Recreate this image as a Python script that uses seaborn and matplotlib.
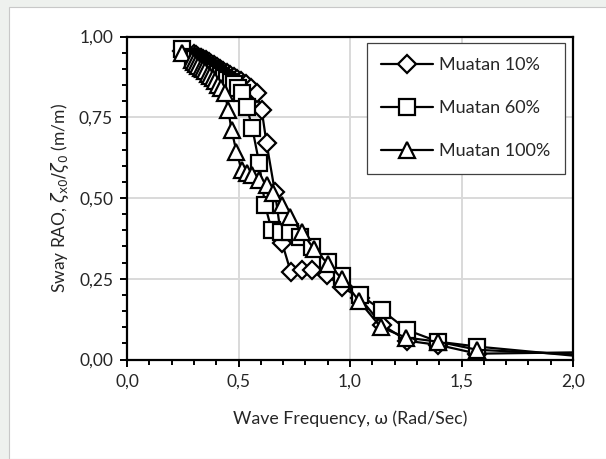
import matplotlib
matplotlib.use("Agg")
import matplotlib.pyplot as plt
import seaborn as sns
import pandas as pd
from matplotlib.ticker import MultipleLocator, FixedLocator
from matplotlib.patches import Rectangle

# ---- data ----
w10 = [0.246, 0.300, 0.310, 0.320, 0.331, 0.342, 0.354, 0.366, 0.378, 0.391, 0.404, 0.418,
       0.432, 0.447, 0.462, 0.478, 0.495, 0.513, 0.532, 0.556, 0.581, 0.604, 0.626, 0.663,
       0.695, 0.734, 0.783, 0.830, 0.895, 0.963, 1.045, 1.142, 1.257, 1.396, 1.571, 2.0]
v10 = [0.955, 0.946, 0.942, 0.938, 0.934, 0.930, 0.926, 0.921, 0.916, 0.911, 0.906, 0.900,
       0.894, 0.888, 0.882, 0.876, 0.869, 0.862, 0.853, 0.842, 0.824, 0.772, 0.669, 0.520,
       0.362, 0.272, 0.278, 0.278, 0.262, 0.225, 0.190, 0.108, 0.058, 0.045, 0.018, 0.022]

w60 = [0.246, 0.297, 0.307, 0.317, 0.327, 0.338, 0.349, 0.360, 0.372, 0.384, 0.396, 0.409,
       0.422, 0.436, 0.450, 0.465, 0.480, 0.497, 0.514, 0.537, 0.562, 0.593, 0.619, 0.649,
       0.690, 0.731, 0.776, 0.831, 0.900, 0.964, 1.045, 1.142, 1.257, 1.396, 1.571, 2.0]
v60 = [0.960, 0.935, 0.930, 0.925, 0.920, 0.915, 0.910, 0.905, 0.900, 0.895, 0.890, 0.884,
       0.878, 0.872, 0.866, 0.860, 0.852, 0.842, 0.824, 0.783, 0.716, 0.607, 0.478, 0.400,
       0.396, 0.396, 0.380, 0.349, 0.302, 0.257, 0.200, 0.153, 0.091, 0.055, 0.040, 0.012]

w100 = [0.246, 0.293, 0.302, 0.311, 0.320, 0.330, 0.340, 0.350, 0.361, 0.372, 0.384, 0.396,
        0.408, 0.421, 0.439, 0.454, 0.469, 0.491, 0.514, 0.537, 0.559, 0.590, 0.626, 0.656,
        0.693, 0.731, 0.783, 0.838, 0.900, 0.964, 1.042, 1.138, 1.250, 1.396, 1.571, 2.0]
v100 = [0.948, 0.928, 0.922, 0.916, 0.910, 0.904, 0.898, 0.892, 0.885, 0.878, 0.870, 0.861,
        0.851, 0.840, 0.824, 0.772, 0.710, 0.643, 0.587, 0.576, 0.571, 0.555, 0.540, 0.514,
        0.478, 0.442, 0.395, 0.343, 0.297, 0.250, 0.180, 0.100, 0.068, 0.055, 0.030, 0.016]

series_labels = ["Muatan 10%", "Muatan 60%", "Muatan 100%"]
x_ticks = [0.0, 0.5, 1.0, 1.5, 2.0]
x_ticklabels = ["0,0", "0,5", "1,0", "1,5", "2,0"]
y_ticks = [0.00, 0.25, 0.50, 0.75, 1.00]
y_ticklabels = ["0,00", "0,25", "0,50", "0,75", "1,00"]

# ---- style ----
sns.set_style("white")
plt.rcParams["font.family"] = ["Lato", "DejaVu Sans"]
plt.rcParams["mathtext.fontset"] = "dejavusans"

fig = plt.figure(figsize=(6.06, 4.59), dpi=100)
fig.patch.set_facecolor("#eef1ee")
bg = Rectangle((8.5 / 606, 0), 1, 1 - 7 / 459, transform=fig.transFigure,
               facecolor="white", edgecolor="#c8c8c8", linewidth=0.8, zorder=-10)
fig.add_artist(bg)

ax = fig.add_axes([127 / 606, 1 - 359.5 / 459, 446 / 606, 323 / 459])
ax.set_zorder(5)
ax.set_facecolor("white")

specs = [
    (w10, v10, "D", 9.5),
    (w60, v60, "s", 11),
    (w100, v100, "^", 11.5),
]
data_lines = []
for (wx, vy, mk, ms), lab in zip(specs, series_labels):
    df = pd.DataFrame({"omega": wx, "rao": vy})
    n_before = len(ax.lines)
    sns.lineplot(data=df, x="omega", y="rao", ax=ax, sort=False, color="black",
                 linewidth=1.6, marker=mk, markersize=ms, markerfacecolor="white",
                 markeredgecolor="black", markeredgewidth=1.6, label=lab)
    data_lines.append((ax.lines[n_before], len(wx)))

ax.set_xlim(0, 2.0)
ax.set_ylim(0, 1.0)
ax.xaxis.set_major_locator(FixedLocator(x_ticks))
ax.set_xticklabels(x_ticklabels)
ax.yaxis.set_major_locator(FixedLocator(y_ticks))
ax.set_yticklabels(y_ticklabels)
ax.xaxis.set_minor_locator(MultipleLocator(0.1))
ax.yaxis.set_minor_locator(MultipleLocator(0.05))
ax.tick_params(axis="both", which="major", direction="out", length=5, width=1.4,
               labelsize=12.5, color="black", labelcolor="#262626", pad=5)
ax.tick_params(axis="both", which="minor", direction="out", length=3.5, width=1.4, color="black")
ax.tick_params(axis="x", which="both", bottom=True)
ax.tick_params(axis="y", which="both", left=True)

ax.grid(True, which="major", color="#d9d9d9", linewidth=1.4)
ax.set_axisbelow(True)
for side in ["left", "bottom", "top", "right"]:
    ax.spines[side].set_visible(True)
    ax.spines[side].set_color("black")
    ax.spines[side].set_linewidth(1.6)

ax.set_xlabel("Wave Frequency, ω (Rad/Sec)", fontsize=12.8, color="#262626", labelpad=15)
ax.set_ylabel(r"Sway RAO, $\zeta_{\mathrm{x0}}/\zeta_0$ (m/m)", fontsize=12.5, color="#262626",
              labelpad=6)

leg = ax.legend(loc="upper right", bbox_to_anchor=(0.982, 0.981), borderaxespad=0,
                fontsize=13, handlelength=2.9, handletextpad=0.33, labelspacing=1.5,
                borderpad=0.8, fancybox=False, framealpha=1, edgecolor="#404040")
leg.get_frame().set_linewidth(0.9)
for t in leg.get_texts():
    t.set_color("#262626")

# no marker on the last (2.0 rad/s) point, as in the reference
for ln, n in data_lines:
    ln.set_markevery(list(range(n - 1)))

fig.savefig("out.png", dpi=100, facecolor=fig.get_facecolor())
